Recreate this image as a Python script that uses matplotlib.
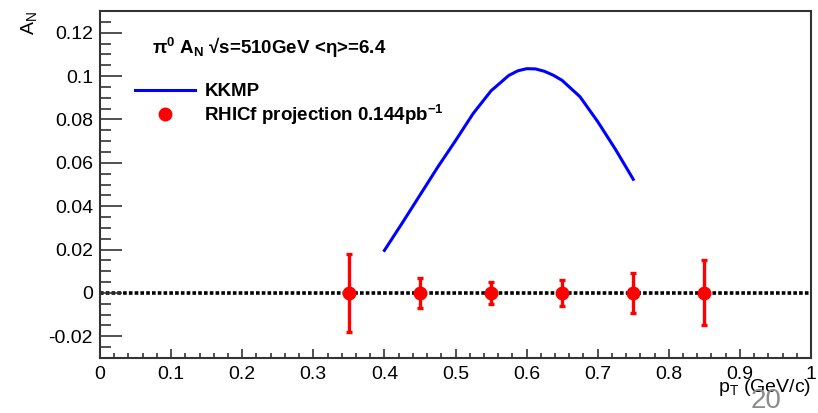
import matplotlib
matplotlib.use("Agg")
import matplotlib.pyplot as plt
from matplotlib.lines import Line2D
from matplotlib.ticker import MultipleLocator

plt.rcParams['font.family'] = ['Liberation Sans', 'DejaVu Sans']
plt.rcParams['mathtext.default'] = 'regular'

# KKMP theory curve
kkmp_pt = [0.400, 0.425, 0.450, 0.475, 0.500, 0.525, 0.550, 0.575, 0.5875,
           0.600, 0.6125, 0.625, 0.6375, 0.650, 0.675, 0.700, 0.725, 0.750]
kkmp_an = [0.0196, 0.0322, 0.0451, 0.0580, 0.0702, 0.0828, 0.0932, 0.1003, 0.1024,
           0.1034, 0.1033, 0.1022, 0.1004, 0.0980, 0.0905, 0.0790, 0.0662, 0.0524]

# RHICf projection points
proj_pt = [0.35, 0.45, 0.55, 0.65, 0.75, 0.85]
proj_an = [0.0, 0.0, 0.0, 0.0, 0.0, 0.0]
proj_err = [0.018, 0.007, 0.005, 0.006, 0.0092, 0.015]

fig = plt.figure(figsize=(8.18, 4.13), dpi=100)
ax = fig.add_axes([100 / 818, 55 / 413, 711 / 818, 347 / 413])

ax.axhline(0, color="black", lw=2.6, ls=(0, (1.0, 0.6)), zorder=1)
kkmp_line, = ax.plot(kkmp_pt, kkmp_an, color="#0000ff", lw=2.2, zorder=2)
ax.errorbar(proj_pt, proj_an, yerr=proj_err, fmt="o", color="#ff0000",
            ms=9, elinewidth=2.4, capsize=2.5, capthick=2.4, zorder=3)

ax.set_xlim(0, 1)
ax.set_ylim(-0.03, 0.13)
ax.xaxis.set_minor_locator(MultipleLocator(0.02))
ax.yaxis.set_minor_locator(MultipleLocator(0.005))
ax.set_xticks([0, 0.1, 0.2, 0.3, 0.4, 0.5, 0.6, 0.7, 0.8, 0.9, 1.0])
ax.set_xticklabels(["0", "0.1", "0.2", "0.3", "0.4", "0.5", "0.6", "0.7", "0.8", "0.9", "1"])
ax.set_yticks([-0.02, 0, 0.02, 0.04, 0.06, 0.08, 0.1, 0.12])
ax.set_yticklabels(["-0.02", "0", "0.02", "0.04", "0.06", "0.08", "0.1", "0.12"])

ax.tick_params(axis="both", which="both", direction="in", labelsize=14,
               color="#333333", width=1.2, top=False, right=False)
ax.tick_params(axis="x", which="major", length=6.7, pad=6)
ax.tick_params(axis="x", which="minor", length=3.3)
ax.tick_params(axis="y", which="major", length=16, pad=5)
ax.tick_params(axis="y", which="minor", length=8)
for s in ax.spines.values():
    s.set_color("#333333")
    s.set_linewidth(1.5)

fig.text(811 / 818, 1 - 388 / 413, "p$_{T}$ (GeV/c)", ha="right", va="center", fontsize=14)
fig.text(29 / 818, 1 - 23 / 413, "A$_{N}$", ha="center", va="center", rotation=90, fontsize=14)

fig.text(152 / 818, 1 - 48 / 413, "π$^{0}$ A$_{N}$ √s=510GeV <η>=6.4",
         ha="left", va="center", fontsize=13.5, fontweight="bold")

proj_handle = Line2D([], [], ls="none", marker="o", ms=9, color="#ff0000")
ax.legend([kkmp_line, proj_handle], ["KKMP", "RHICf projection 0.144pb$^{-1}$"],
          loc="upper left", bbox_to_anchor=(135 / 818, 1 - 83 / 413),
          bbox_transform=fig.transFigure, frameon=False, borderpad=0,
          borderaxespad=0, handlelength=3.2, handletextpad=0.5,
          labelspacing=0.15, prop={"size": 13.5, "weight": "bold"})

fig.text(766 / 818, 1 - 401 / 413, "20", ha="center", va="center", fontsize=20,
         color="#8c8c8c")

fig.savefig("out.png", dpi=100)
plt.close(fig)
